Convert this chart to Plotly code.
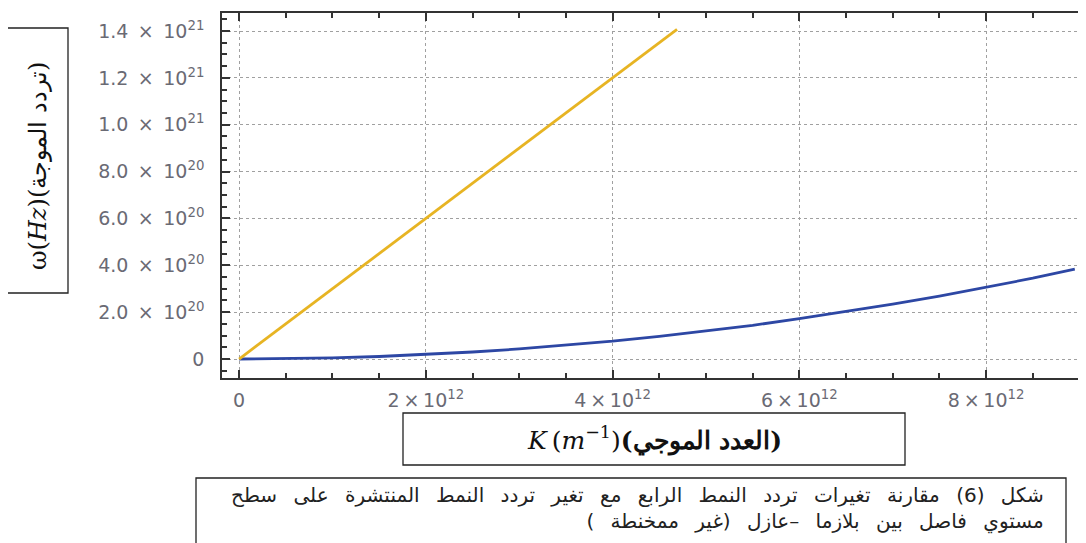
import plotly.graph_objects as go

# ---- data ----
k_fourth = [0, 0.5e12, 1.0e12, 1.5e12, 2.0e12, 2.5e12, 3.0e12, 3.5e12, 4.0e12, 4.5e12,
            5.0e12, 5.5e12, 6.0e12, 6.5e12, 7.0e12, 7.5e12, 8.0e12, 8.5e12, 8.95e12]
w_fourth = [0, 0.012e20, 0.048e20, 0.107e20, 0.19e20, 0.30e20, 0.43e20, 0.58e20, 0.76e20, 0.97e20,
            1.19e20, 1.44e20, 1.72e20, 2.02e20, 2.34e20, 2.68e20, 3.05e20, 3.45e20, 3.84e20]

k_light = [0, 1.0e12, 2.0e12, 3.0e12, 4.0e12, 4.69e12]
w_light = [0, 3.0e20, 6.0e20, 9.0e20, 1.2e21, 1.407e21]

x_tickvals = [0, 2e12, 4e12, 6e12, 8e12]
x_ticktext = ["0", "2\u2009×\u200910<sup>12</sup>", "4\u2009×\u200910<sup>12</sup>",
              "6\u2009×\u200910<sup>12</sup>", "8\u2009×\u200910<sup>12</sup>"]
y_tickvals = [0, 2e20, 4e20, 6e20, 8e20, 1.0e21, 1.2e21, 1.4e21]
y_ticktext = ["0", "2.0\u2002×\u200210<sup>20</sup>", "4.0\u2002×\u200210<sup>20</sup>",
              "6.0\u2002×\u200210<sup>20</sup>", "8.0\u2002×\u200210<sup>20</sup>",
              "1.0\u2002×\u200210<sup>21</sup>", "1.2\u2002×\u200210<sup>21</sup>",
              "1.4\u2002×\u200210<sup>21</sup>"]

y_title = "ω(<i>Hz</i>)(تردد الموجة)"
x_title = "<i>K</i>\u2009(<i>m</i><sup>−1</sup>)<b>(العدد الموجي)</b>"
caption_lines = ["\u200fشكل (6) مقارنة تغيرات تردد النمط الرابع مع تغير تردد النمط المنتشرة على سطح\u200f",
                 "\u200fمستوي فاصل بين بلازما –عازل (غير ممخنطة )\u200f"]

# ---- layout geometry (pixels, in page coordinates) ----
OFF = 8  # default page margin of the html body
WIDTH, HEIGHT = 1086 - OFF, 543 - OFF
L, T, R, B = 222 - OFF, 13 - OFF, 1086 - OFF, 378 - OFF
PW, PH = R - L, B - T


def px(x):
    return (x - OFF - L) / PW


def py(y):
    return (B - (y - OFF)) / PH


fig = go.Figure()
fig.add_trace(go.Scatter(x=k_fourth, y=w_fourth, mode="lines",
                         line=dict(color="#2D47A4", width=2.8), showlegend=False))
fig.add_trace(go.Scatter(x=k_light, y=w_light, mode="lines",
                         line=dict(color="#E7B423", width=2.8), showlegend=False))

tick_font = dict(family="DejaVu Sans", size=19, color="#6a6a74")

fig.update_xaxes(range=[-0.183e12, 9.07e12], tickmode="array", tickvals=x_tickvals,
                 ticktext=x_ticktext, tickfont=tick_font, ticks="inside", ticklen=8,
                 tickwidth=2, tickcolor="#333", showline=True, linecolor="#333", linewidth=1.6,
                 mirror="allticks", showgrid=True, gridcolor="#a0a0a0", griddash="dot",
                 gridwidth=1, zeroline=False, ticklabelstandoff=4,
                 minor=dict(dtick=0.5e12, tick0=0, ticks="inside", ticklen=5, tickcolor="#333",
                            tickwidth=1.5, showgrid=False))
fig.update_yaxes(range=[-0.81e20, 14.77e20], tickmode="array", tickvals=y_tickvals,
                 ticktext=y_ticktext, tickfont=tick_font, ticks="inside", ticklen=8,
                 tickwidth=2, tickcolor="#333", showline=True, linecolor="#333", linewidth=1.6,
                 mirror=False, showgrid=True, gridcolor="#a0a0a0", griddash="dot",
                 gridwidth=1, zeroline=False, ticklabelstandoff=12,
                 minor=dict(dtick=0.5e20, tick0=0, ticks="inside", ticklen=5, tickcolor="#333",
                            tickwidth=1.5, showgrid=False))

shapes = [
    dict(type="rect", xref="paper", yref="paper", x0=px(7), x1=px(68), y0=py(293), y1=py(28),
         line=dict(color="#222", width=1.3)),
    dict(type="rect", xref="paper", yref="paper", x0=px(403), x1=px(905), y0=py(465), y1=py(413),
         line=dict(color="#222", width=1.3)),
    dict(type="rect", xref="paper", yref="paper", x0=px(196), x1=px(1066), y0=py(600), y1=py(478),
         line=dict(color="#222", width=1.3)),
]

caption_html = "<br>".join('<span style="word-spacing:10px">' + s + "</span>" for s in caption_lines)

annotations = [
    dict(text=y_title, xref="paper", yref="paper", x=px(38), y=py(166), showarrow=False,
         textangle=-90, font=dict(family="DejaVu Serif", size=24, color="#111"),
         xanchor="center", yanchor="middle"),
    dict(text=x_title, xref="paper", yref="paper", x=px(654), y=py(439), showarrow=False,
         font=dict(family="DejaVu Serif", size=25, color="#111"),
         xanchor="center", yanchor="middle"),
    dict(text=caption_html, xref="paper", yref="paper", x=px(1046), y=py(481),
         showarrow=False, align="right", font=dict(family="DejaVu Sans", size=20, color="#222"),
         xanchor="right", yanchor="top"),
]

fig.update_layout(width=WIDTH, height=HEIGHT, margin=dict(l=L, r=WIDTH - R, t=T, b=HEIGHT - B),
                  paper_bgcolor="white", plot_bgcolor="white", shapes=shapes,
                  annotations=annotations)

fig.write_html("out.html")
